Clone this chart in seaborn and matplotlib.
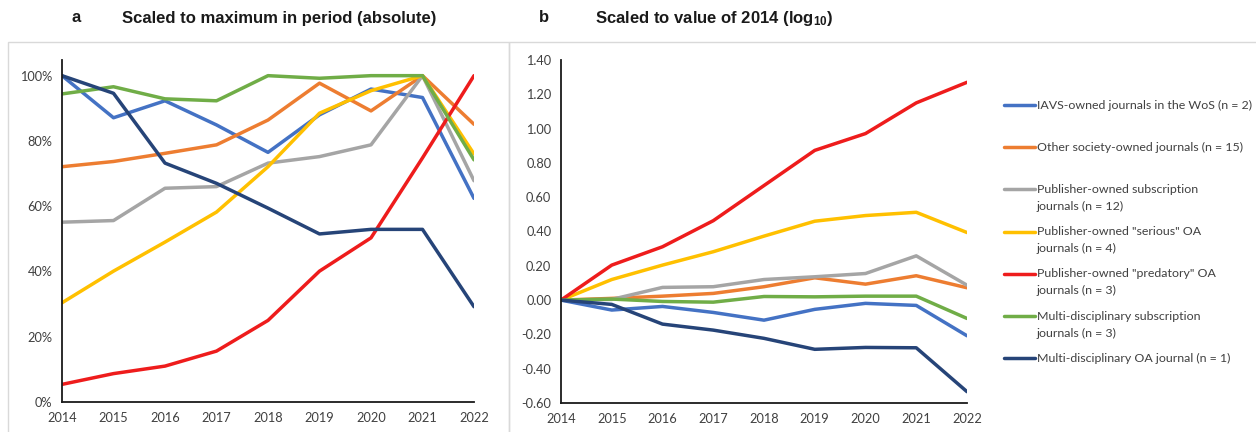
import pandas as pd
import seaborn as sns
import matplotlib.pyplot as plt
from matplotlib.lines import Line2D
from matplotlib.patches import Rectangle

# data
years = [2014, 2015, 2016, 2017, 2018, 2019, 2020, 2021, 2022]

groups = [
    'IAVS-owned journals in the WoS (n = 2)',
    'Other society-owned journals (n = 15)',
    'Publisher-owned subscription\njournals (n = 12)',
    'Publisher-owned "serious" OA\njournals (n = 4)',
    'Publisher-owned "predatory" OA\njournals (n = 3)',
    'Multi-disciplinary subscription\njournals (n = 3)',
    'Multi-disciplinary OA journal (n = 1)',
]
colours = ['#4472C4', '#ED7D31', '#A5A5A5', '#FFC000', '#EE1C1C', '#70AD47', '#264478']

# panel a : % of maximum in period
a_iavs = [100, 87.1, 92.3, 84.9, 76.5, 88.0, 95.9, 93.3, 62.4]
a_society = [72.1, 73.7, 76.2, 78.8, 86.4, 97.7, 89.2, 100, 85.1]
a_pub_sub = [55.1, 55.6, 65.5, 66.0, 73.2, 75.2, 78.8, 100, 67.8]
a_pub_oa = [30.4, 40.1, 49.0, 58.2, 72.1, 88.5, 95.4, 100, 76.0]
a_predatory = [5.4, 8.7, 11.0, 15.6, 25.0, 40.1, 50.3, 74.8, 100]
a_multi_sub = [94.4, 96.6, 92.9, 92.3, 100, 99.2, 100, 100, 74.2]
a_multi_oa = [100, 94.6, 73.2, 67.0, 59.4, 51.5, 52.9, 52.9, 29.2]

# panel b : log10 of value relative to 2014
b_iavs = [0, -0.058, -0.037, -0.072, -0.117, -0.054, -0.019, -0.031, -0.208]
b_society = [0, 0.010, 0.023, 0.039, 0.078, 0.130, 0.093, 0.142, 0.072]
b_pub_sub = [0, 0.004, 0.074, 0.078, 0.120, 0.136, 0.155, 0.258, 0.087]
b_pub_oa = [0, 0.120, 0.204, 0.282, 0.373, 0.460, 0.493, 0.512, 0.394]
b_predatory = [0, 0.204, 0.311, 0.463, 0.668, 0.873, 0.971, 1.150, 1.270]
b_multi_sub = [0, 0.006, -0.008, -0.012, 0.021, 0.019, 0.023, 0.023, -0.107]
b_multi_oa = [0, -0.025, -0.140, -0.175, -0.223, -0.287, -0.276, -0.278, -0.534]

a_vals = [a_iavs, a_society, a_pub_sub, a_pub_oa, a_predatory, a_multi_sub, a_multi_oa]
b_vals = [b_iavs, b_society, b_pub_sub, b_pub_oa, b_predatory, b_multi_sub, b_multi_oa]


def long_table(values):
    rows = []
    for g, vals in zip(groups, values):
        for y, v in zip(years, vals):
            rows.append({'Year': y, 'Value': v, 'Group': g})
    return pd.DataFrame(rows)


df_a = long_table(a_vals)
df_b = long_table(b_vals)
palette = dict(zip(groups, colours))

sns.set_style('white')
plt.rcParams['font.family'] = ['Lato', 'DejaVu Sans']
plt.rcParams['mathtext.fontset'] = 'custom'
plt.rcParams['mathtext.rm'] = 'Liberation Sans:bold'
plt.rcParams['mathtext.it'] = 'Liberation Sans:bold'
plt.rcParams['mathtext.bf'] = 'Liberation Sans:bold'

W, H = 1256, 432
fig = plt.figure(figsize=(12.56, 4.32), dpi=100)

# panel frames
fig.add_artist(Rectangle((8 / W, -0.05), (509 - 8) / W, 1.05 - 42 / H,
                         transform=fig.transFigure, fill=False, ec='#D9D9D9', lw=1))
fig.add_artist(Rectangle((509 / W, -0.05), 0.6, 1.05 - 42 / H,
                         transform=fig.transFigure, fill=False, ec='#D9D9D9', lw=1))

ax_a = fig.add_axes([62 / W, 1 - 402 / H, (474 - 62) / W, (402 - 60) / H])
ax_b = fig.add_axes([561 / W, 1 - 403 / H, (967 - 561) / W, (403 - 60) / H])

sns.lineplot(data=df_a, x='Year', y='Value', hue='Group', palette=palette,
             lw=2.5, legend=False, ax=ax_a)
sns.lineplot(data=df_b, x='Year', y='Value', hue='Group', palette=palette,
             lw=2.5, legend=False, ax=ax_b)

ax_a.set_ylim(0, 104.8)
ax_a.set_yticks([0, 20, 40, 60, 80, 100])
ax_a.set_yticklabels([f'{t}%' for t in [0, 20, 40, 60, 80, 100]])

ax_b.set_ylim(-0.6, 1.4)
b_ticks = [-0.6, -0.4, -0.2, 0, 0.2, 0.4, 0.6, 0.8, 1.0, 1.2, 1.4]
ax_b.set_yticks(b_ticks)
ax_b.set_yticklabels([f'{t:.2f}' for t in b_ticks])

for ax in (ax_a, ax_b):
    ax.set_xlim(2014, 2022)
    ax.set_xticks(years)
    ax.set_xlabel('')
    ax.set_ylabel('')
    ax.set_facecolor('none')
    for s in ('top', 'right'):
        ax.spines[s].set_visible(False)
    for s in ('left', 'bottom'):
        ax.spines[s].set_color('#1a1a1a')
        ax.spines[s].set_linewidth(1.3)
    ax.tick_params(axis='both', direction='out', length=4, width=1.1,
                   color='#1a1a1a', labelcolor='#404040', labelsize=9.2, pad=3)

title_font = dict(family=['Liberation Sans'], weight='bold', size=12,
                  color='#1a1a1a', va='center')
fig.text(72 / W, 1 - 18 / H, 'a', **title_font)
fig.text(122 / W, 1 - 18 / H, 'Scaled to maximum in period (absolute)', **title_font)
fig.text(539 / W, 1 - 18 / H, 'b', **title_font)
fig.text(595 / W, 1 - 18 / H, r'Scaled to value of 2014 (log$_{10}$)', **title_font)

# legend drawn by hand so the key sits on the first text line
for i, (g, c) in enumerate(zip(groups, colours)):
    y0 = 105 + i * 42.2
    fig.add_artist(Line2D([1004 / W, 1035 / W], [1 - y0 / H, 1 - y0 / H],
                          transform=fig.transFigure, color=c, lw=2.5))
    for j, line in enumerate(g.split('\n')):
        fig.text(1037 / W, 1 - (y0 + 17 * j) / H, line, fontsize=8.9,
                 color='#404040', va='center', ha='left')

fig.savefig('out.png', dpi=100)
